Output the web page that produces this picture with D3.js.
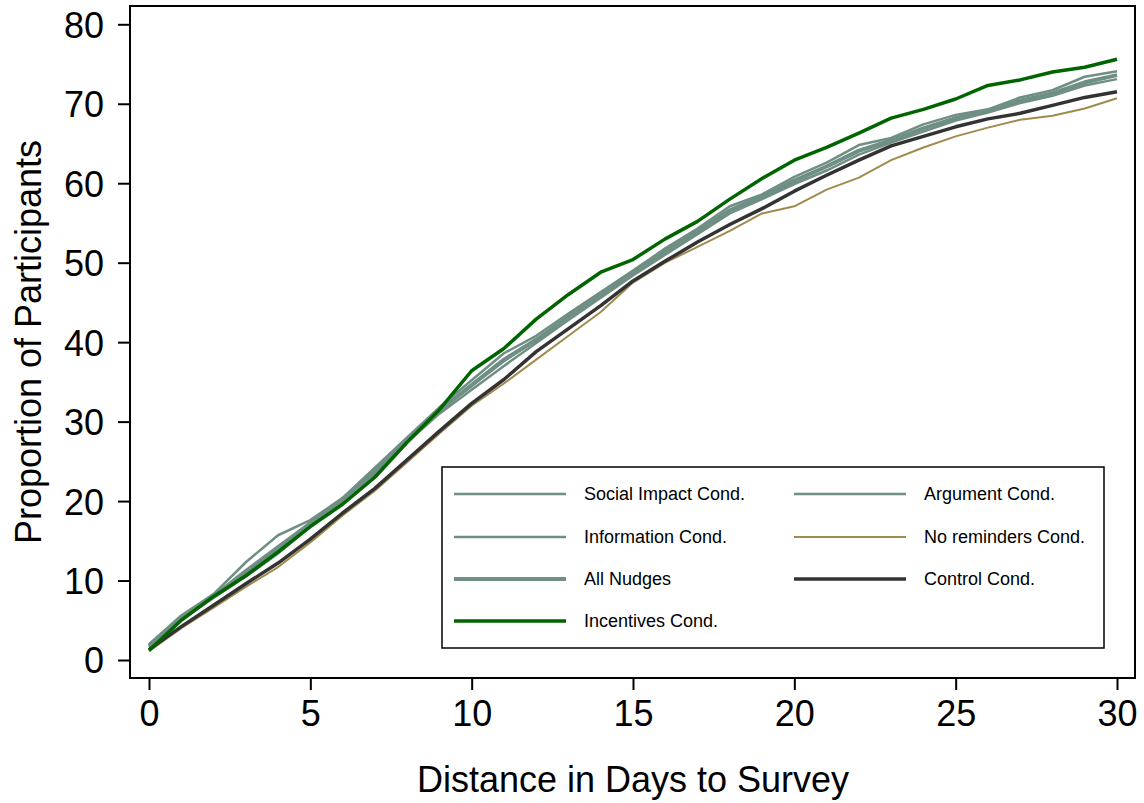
<!DOCTYPE html>
<html>
<head>
<meta charset="utf-8">
<script src="https://cdn.jsdelivr.net/npm/d3@7"></script>
<style>
  body { margin: 0; background: #fff; }
  text { font-family: "Liberation Sans", Arial, sans-serif; }
</style>
</head>
<body>
<div id="chart"></div>
<script>
// days 0..30
var days = d3.range(0, 31);

var socialImpact = [2.0, 5.6, 8.3, 12.3, 15.7, 17.6, 20.4, 24.2, 28.0, 31.8, 35.2, 38.6, 40.8, 43.6, 46.3, 49.0, 51.8, 54.3, 57.1, 58.6, 60.8, 62.6, 64.8, 65.7, 67.4, 68.6, 69.3, 70.8, 71.7, 73.4, 74.1];
var argument = [1.8, 5.3, 8.0, 11.0, 14.0, 17.3, 20.3, 23.8, 27.8, 31.5, 34.5, 37.6, 40.3, 43.2, 46.0, 48.6, 51.4, 54.0, 56.6, 58.4, 60.4, 62.1, 64.0, 65.4, 66.9, 68.2, 69.1, 70.4, 71.3, 72.6, 73.6];
var information = [1.6, 5.1, 7.8, 10.5, 13.4, 16.8, 19.9, 23.4, 27.4, 31.0, 34.0, 37.0, 39.9, 42.8, 45.6, 48.4, 51.0, 53.6, 56.2, 58.0, 59.9, 61.6, 63.6, 65.1, 66.5, 67.9, 68.9, 70.1, 71.0, 72.3, 73.1];
var allNudges = [1.8, 5.3, 8.0, 11.2, 14.2, 17.2, 20.2, 23.8, 27.7, 31.4, 34.6, 37.8, 40.3, 43.2, 46.0, 48.7, 51.4, 53.9, 56.6, 58.3, 60.3, 62.1, 64.1, 65.4, 66.9, 68.2, 69.1, 70.4, 71.3, 72.7, 73.6];
var noReminders = [1.1, 4.0, 6.6, 9.2, 11.7, 14.8, 18.2, 21.3, 24.9, 28.5, 32.0, 34.8, 37.8, 40.8, 43.8, 47.5, 50.0, 52.0, 54.0, 56.2, 57.1, 59.2, 60.7, 62.9, 64.5, 65.9, 67.0, 68.0, 68.5, 69.4, 70.7];
var control = [1.3, 4.2, 6.9, 9.6, 12.2, 15.2, 18.5, 21.6, 25.2, 28.8, 32.3, 35.3, 38.8, 41.7, 44.6, 47.7, 50.2, 52.6, 54.8, 56.8, 59.0, 61.0, 62.9, 64.7, 65.9, 67.1, 68.1, 68.8, 69.8, 70.8, 71.5];
var incentives = [1.2, 5.0, 8.0, 10.6, 13.6, 16.8, 19.6, 23.0, 27.4, 31.5, 36.4, 39.2, 42.9, 46.0, 48.8, 50.4, 53.0, 55.2, 58.0, 60.6, 62.9, 64.5, 66.3, 68.2, 69.3, 70.6, 72.3, 73.0, 74.0, 74.6, 75.6];

var xTicks = [0, 5, 10, 15, 20, 25, 30];
var yTicks = [0, 10, 20, 30, 40, 50, 60, 70, 80];

// drawing order: gray ones first, incentives on top
var series = [
  { name: "Social Impact Cond.", values: socialImpact, color: "#6f8f84", width: 2.5 },
  { name: "Argument Cond.", values: argument, color: "#6f8f84", width: 2.5 },
  { name: "Information Cond.", values: information, color: "#6f8f84", width: 2.5 },
  { name: "All Nudges", values: allNudges, color: "#6f8f84", width: 4 },
  { name: "No reminders Cond.", values: noReminders, color: "#a08b4e", width: 2 },
  { name: "Control Cond.", values: control, color: "#333333", width: 3.5 },
  { name: "Incentives Cond.", values: incentives, color: "#006400", width: 3.5 }
];

// legend layout (column, row) as in the original
var legendOrder = [
  ["Social Impact Cond.", 0, 0], ["Argument Cond.", 1, 0],
  ["Information Cond.", 0, 1], ["No reminders Cond.", 1, 1],
  ["All Nudges", 0, 2], ["Control Cond.", 1, 2],
  ["Incentives Cond.", 0, 3]
];

var W = 1144, H = 803;
var frame = { left: 130, top: 6, right: 1135, bottom: 678 };

var svg = d3.select("#chart").append("svg")
  .attr("width", W).attr("height", H);

var x = d3.scaleLinear().domain([0, 30]).range([149, 1117]);
var y = d3.scaleLinear().domain([0, 80]).range([660, 24.3]);

// plot frame
svg.append("rect")
  .attr("x", frame.left).attr("y", frame.top)
  .attr("width", frame.right - frame.left)
  .attr("height", frame.bottom - frame.top)
  .attr("fill", "none").attr("stroke", "#000").attr("stroke-width", 2);

// axes
var xAxis = svg.append("g")
  .attr("transform", "translate(0," + frame.bottom + ")")
  .call(d3.axisBottom(x).tickValues(xTicks).tickSize(12).tickPadding(10));
var yAxis = svg.append("g")
  .attr("transform", "translate(" + frame.left + ",0)")
  .call(d3.axisLeft(y).tickValues(yTicks).tickSize(12).tickPadding(14));

[xAxis, yAxis].forEach(function(g) {
  g.select(".domain").remove();
  g.selectAll(".tick line").attr("stroke", "#000").attr("stroke-width", 2);
  g.selectAll(".tick text")
    .attr("font-size", 36)
    .attr("fill", "#000")
    .style("font-family", "'Liberation Sans', Arial, sans-serif");
});
yAxis.selectAll(".tick text").attr("dy", "0.36em");

// lines
var line = d3.line()
  .x(function(d, i) { return x(days[i]); })
  .y(function(d) { return y(d); });

svg.append("g").selectAll("path")
  .data(series)
  .enter()
  .append("path")
  .attr("d", function(d) { return line(d.values); })
  .attr("fill", "none")
  .attr("stroke", function(d) { return d.color; })
  .attr("stroke-width", function(d) { return d.width; })
  .attr("stroke-linejoin", "round");

// legend
var legend = svg.append("g");
legend.append("rect")
  .attr("x", 442).attr("y", 467)
  .attr("width", 662).attr("height", 181)
  .attr("fill", "#fff").attr("stroke", "#000").attr("stroke-width", 1.5);

var colX = [454, 794], textX = [584, 924], rowY = [494, 537, 579, 621];
var byName = {};
series.forEach(function(s) { byName[s.name] = s; });

var items = legend.selectAll("g.item")
  .data(legendOrder)
  .enter()
  .append("g");

items.append("line")
  .attr("x1", function(d) { return colX[d[1]]; })
  .attr("x2", function(d) { return colX[d[1]] + 112; })
  .attr("y1", function(d) { return rowY[d[2]]; })
  .attr("y2", function(d) { return rowY[d[2]]; })
  .attr("stroke", function(d) { return byName[d[0]].color; })
  .attr("stroke-width", function(d) { return byName[d[0]].width; });

items.append("text")
  .attr("x", function(d) { return textX[d[1]]; })
  .attr("y", function(d) { return rowY[d[2]]; })
  .attr("dy", "0.35em")
  .attr("font-size", 18)
  .attr("fill", "#000")
  .text(function(d) { return d[0]; });

// axis titles
svg.append("text")
  .attr("x", 633).attr("y", 792)
  .attr("text-anchor", "middle")
  .attr("font-size", 36)
  .attr("fill", "#000")
  .text("Distance in Days to Survey");

svg.append("text")
  .attr("transform", "translate(41,342) rotate(-90)")
  .attr("text-anchor", "middle")
  .attr("font-size", 36)
  .attr("fill", "#000")
  .text("Proportion of Participants");
</script>
</body>
</html>
